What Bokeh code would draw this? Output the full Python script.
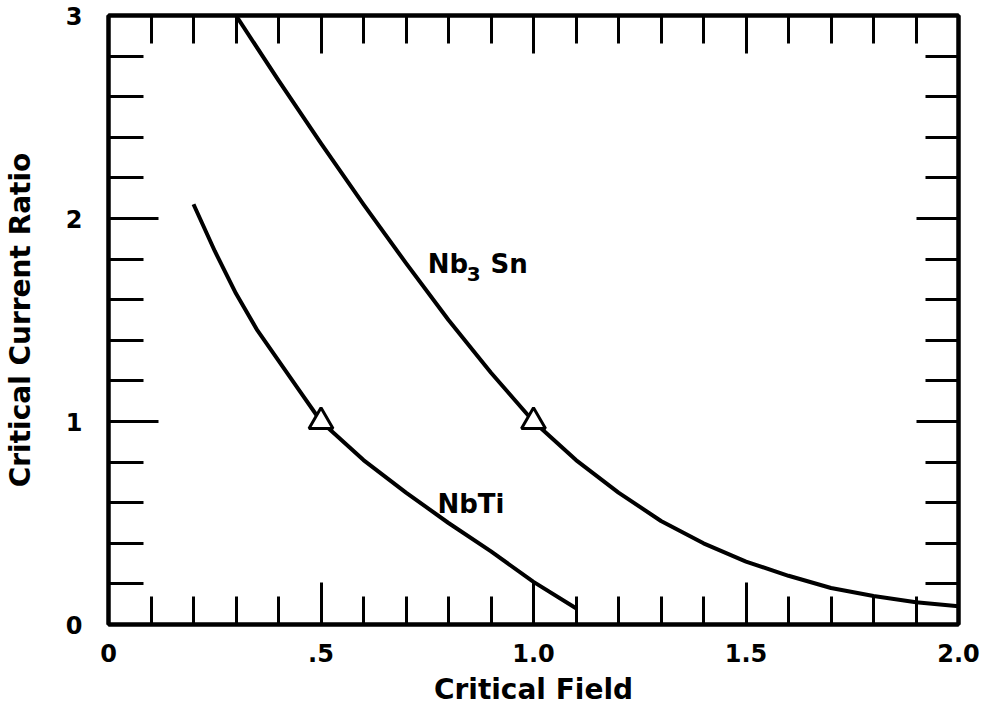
from bokeh.plotting import figure
from bokeh.models import LinearAxis, FixedTicker, Range1d, CustomLabelingPolicy
from bokeh.core.properties import value
from bokeh.embed import file_html
from bokeh.resources import INLINE

# ---- data ----
nb3sn_x = [0.30, 0.40, 0.50, 0.60, 0.70, 0.80, 0.90, 1.00, 1.10, 1.20, 1.30, 1.40, 1.50, 1.60, 1.70, 1.80, 1.90, 2.00]
nb3sn_y = [3.00, 2.68, 2.37, 2.07, 1.78, 1.50, 1.24, 1.00, 0.81, 0.65, 0.51, 0.40, 0.31, 0.24, 0.18, 0.14, 0.11, 0.09]

nbti_x = [0.20, 0.25, 0.30, 0.35, 0.40, 0.45, 0.50, 0.60, 0.70, 0.80, 0.90, 1.00, 1.10]
nbti_y = [2.07, 1.84, 1.63, 1.45, 1.30, 1.15, 1.00, 0.81, 0.65, 0.50, 0.36, 0.21, 0.08]

marker_x = [0.5, 1.0]
marker_y = [1.0, 1.0]

x_major = [0, 0.5, 1.0, 1.5, 2.0]
x_labels = ["0", ".5", "1.0", "1.5", "2.0"]
x_minor = [i / 10 for i in range(21)]
y_major = [0, 1, 2, 3]
y_labels = ["0", "1", "2", "3"]
y_minor = [i / 5 for i in range(16)]

FONT = "DejaVu Sans"

p = figure(width=986, height=714, x_range=Range1d(0, 2), y_range=Range1d(0, 3),
           output_backend="svg", toolbar_location=None,
           min_border_left=108, min_border_right=28, min_border_top=15, min_border_bottom=90,
           x_axis_label="Critical Field", y_axis_label="Critical Current Ratio")
p.grid.visible = False
p.outline_line_color = "black"
p.outline_line_width = 4
p.background_fill_color = "white"
p.border_fill_color = "white"


def style_axis(ax, major_in, minor_in, show_labels):
    ax.axis_line_width = 4
    ax.axis_line_color = "black"
    ax.major_tick_out = 0
    ax.minor_tick_out = 0
    ax.major_tick_in = major_in
    ax.minor_tick_in = minor_in
    ax.major_tick_line_width = 3
    ax.minor_tick_line_width = 3
    ax.major_tick_line_color = "black"
    ax.minor_tick_line_color = "black"
    ax.major_label_text_font = FONT
    ax.major_label_text_color = "black"
    if show_labels:
        ax.major_label_text_font_style = "bold"
        ax.major_label_text_font_size = "24px"
        ax.axis_label_text_font = FONT
        ax.axis_label_text_font_style = "bold"
        ax.axis_label_text_font_size = "28px"
        ax.axis_label_text_color = "black"
    else:
        ax.major_label_text_font_size = "1px"
        ax.major_label_policy = CustomLabelingPolicy(code="return []")
        ax.major_label_standoff = 0


xa = p.xaxis[0]
xa.ticker = FixedTicker(ticks=x_major, minor_ticks=x_minor)
xa.major_label_overrides = {float(t): s for t, s in zip(x_major, x_labels)}
style_axis(xa, 42, 28, True)
xa.major_label_standoff = 19
xa.axis_label_standoff = 8

ya = p.yaxis[0]
ya.ticker = FixedTicker(ticks=y_major, minor_ticks=y_minor)
ya.major_label_overrides = {float(t): s for t, s in zip(y_major, y_labels)}
style_axis(ya, 50, 35, True)
ya.major_label_standoff = 26
ya.axis_label_standoff = 26

top = LinearAxis(ticker=FixedTicker(ticks=x_major, minor_ticks=x_minor))
style_axis(top, 38, 28, False)
p.add_layout(top, "above")

right = LinearAxis(ticker=FixedTicker(ticks=y_major, minor_ticks=y_minor))
style_axis(right, 42, 33, False)
p.add_layout(right, "right")

p.line(nb3sn_x, nb3sn_y, line_width=4, line_color="black", line_join="round")
p.line(nbti_x, nbti_y, line_width=4, line_color="black", line_join="round")
p.scatter(marker_x, marker_y, marker="triangle", size=24, fill_color="white",
          line_color="black", line_width=3)

# curve labels
p.text(x=[0.751], y=[1.775], text=["Nb"], text_font=value(FONT), text_font_style="bold",
       text_font_size="26px", text_baseline="alphabetic", text_color="black")
p.text(x=[0.843], y=[1.727], text=["3"], text_font=value(FONT), text_font_style="bold",
       text_font_size="20px", text_baseline="alphabetic", text_color="black")
p.text(x=[0.899], y=[1.775], text=["Sn"], text_font=value(FONT), text_font_style="bold",
       text_font_size="26px", text_baseline="alphabetic", text_color="black")
p.text(x=[0.774], y=[0.596], text=["NbTi"], text_font=value(FONT), text_font_style="bold",
       text_font_size="26px", text_baseline="alphabetic", text_color="black")

open("out.html", "w").write(file_html(p, INLINE))
